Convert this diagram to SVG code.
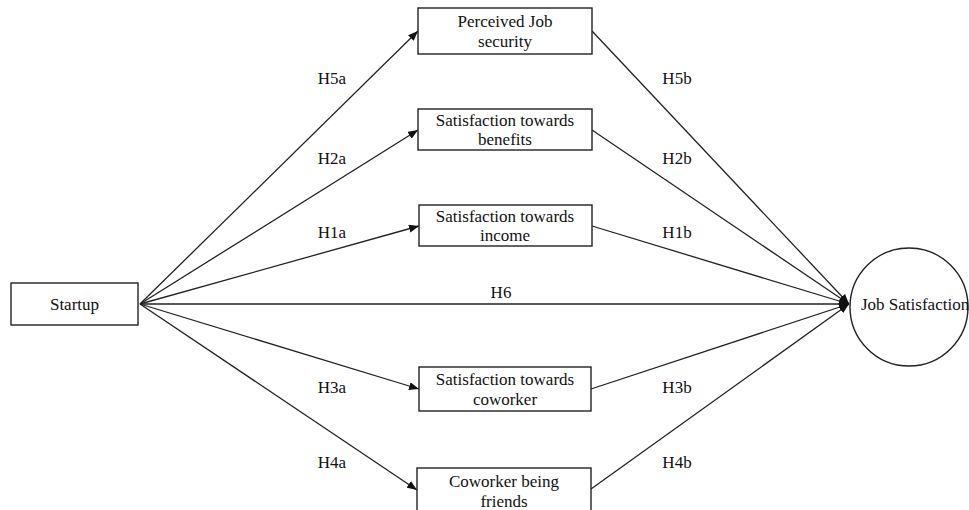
<svg xmlns="http://www.w3.org/2000/svg" width="969" height="510" viewBox="0 0 969 510">
<style>
.box{fill:#fff;stroke:#222;stroke-width:1.4}
.t{font-family:"Liberation Serif","Times New Roman",serif;font-size:17px;fill:#111;text-anchor:middle}
.lbl{font-family:"Liberation Serif","Times New Roman",serif;font-size:17px;fill:#111;text-anchor:middle}
.ln{stroke:#222;stroke-width:1.3;fill:none;marker-end:url(#ah)}
</style>
<defs>
<marker id="ah" viewBox="0 0 10 8" refX="10" refY="4" markerWidth="10" markerHeight="8" markerUnits="userSpaceOnUse" orient="auto">
<path d="M0,0 L10,4 L0,8 Z" fill="#111"/>
</marker>
</defs>
<g id="connectors">
<line class="ln" x1="140" y1="304" x2="418" y2="31"/>
<line class="ln" x1="140" y1="304" x2="418" y2="130"/>
<line class="ln" x1="140" y1="304" x2="419" y2="226"/>
<line class="ln" x1="140" y1="304" x2="849" y2="304"/>
<line class="ln" x1="140" y1="304" x2="419" y2="389"/>
<line class="ln" x1="140" y1="304" x2="417" y2="490"/>
<line class="ln" x1="592" y1="31" x2="849" y2="304"/>
<line class="ln" x1="592" y1="130" x2="849" y2="304"/>
<line class="ln" x1="592" y1="226" x2="849" y2="304"/>
<line class="ln" x1="591" y1="389" x2="849" y2="304"/>
<line class="ln" x1="591" y1="489" x2="849" y2="304"/>
<text class="lbl" x="332" y="84">H5a</text>
<text class="lbl" x="332" y="164">H2a</text>
<text class="lbl" x="332" y="238">H1a</text>
<text class="lbl" x="501" y="298">H6</text>
<text class="lbl" x="332" y="393">H3a</text>
<text class="lbl" x="332" y="468">H4a</text>
<text class="lbl" x="677" y="84">H5b</text>
<text class="lbl" x="677" y="164">H2b</text>
<text class="lbl" x="677" y="238">H1b</text>
<text class="lbl" x="677" y="393">H3b</text>
<text class="lbl" x="677" y="468">H4b</text>
</g>
<g id="startup">
<rect class="box" x="11" y="283" width="127" height="42"/>
<text class="t" x="74.5" y="310">Startup</text>
</g>
<g id="job-security">
<rect class="box" x="418" y="8" width="174" height="46"/>
<text class="t" x="505" y="27">Perceived Job</text>
<text class="t" x="505" y="47">security</text>
</g>
<g id="benefits">
<rect class="box" x="418" y="109" width="174" height="41"/>
<text class="t" x="505" y="126">Satisfaction towards</text>
<text class="t" x="505" y="145">benefits</text>
</g>
<g id="income">
<rect class="box" x="419" y="205" width="173" height="41"/>
<text class="t" x="505" y="222">Satisfaction towards</text>
<text class="t" x="505" y="241">income</text>
</g>
<g id="coworker">
<rect class="box" x="419" y="367" width="172" height="44"/>
<text class="t" x="505" y="385">Satisfaction towards</text>
<text class="t" x="505" y="405">coworker</text>
</g>
<g id="friends">
<rect class="box" x="417" y="468" width="174" height="46"/>
<text class="t" x="504" y="487">Coworker being</text>
<text class="t" x="504" y="507">friends</text>
</g>
<g id="job-satisfaction">
<circle cx="909" cy="307" r="59" fill="#fff" stroke="#222" stroke-width="1.4"/>
<text font-family="Liberation Serif,'Times New Roman',serif" font-size="17" fill="#111" x="861" y="310">Job Satisfaction</text>
</g>
</svg>
